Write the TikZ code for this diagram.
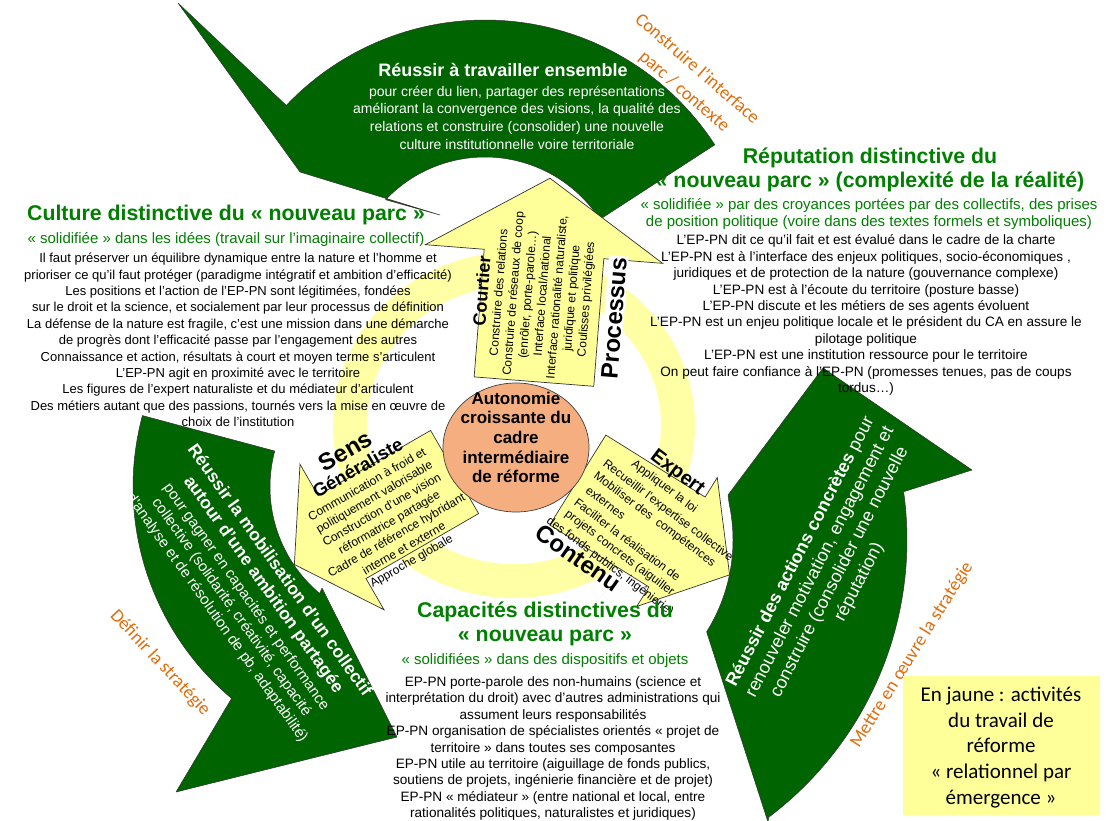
\documentclass[tikz,border=0pt]{standalone}
\usepackage{fontspec}
\setmainfont{Liberation Sans}
\newfontfamily\carlito{Carlito}
\usetikzlibrary{shapes.geometric}
\definecolor{dgreen}{RGB}{0,100,0}
\definecolor{hgreen}{RGB}{0,128,0}
\definecolor{lyellow}{RGB}{255,255,153}
\definecolor{ryellow}{RGB}{255,255,165}
\definecolor{salmon}{RGB}{244,174,128}
\definecolor{otxt}{RGB}{228,108,10}
\begin{document}
\begin{tikzpicture}[x=1pt,y=-1pt,
  garrow/.style={fill=dgreen,draw=black!80,line width=0.5pt,line join=round},
  yarrow/.style={fill=lyellow,draw=black!80,line width=0.7pt,line join=miter},
  bodytxt/.style={font=\fontsize{13.6}{16.4}\selectfont,align=center,inner sep=0pt},
  headtxt/.style={font=\bfseries\fontsize{21.3}{24.5}\selectfont,text=hgreen,align=center,inner sep=0pt},
  subtxt/.style={font=\fontsize{15}{17}\selectfont,text=hgreen,align=center,inner sep=0pt},
  whitetxt/.style={text=white,align=center,inner sep=0pt},
  smalltxt/.style={font=\fontsize{12}{14.8}\selectfont,align=center,inner sep=0pt},
  exptxt/.style={font=\fontsize{12}{13}\selectfont,inner sep=0pt,anchor=west,transform shape},
  orangelab/.style={font=\carlito\fontsize{18.5}{20}\selectfont,text=otxt,inner sep=0pt},
  bigword/.style={font=\bfseries\fontsize{24}{26}\selectfont,inner sep=0pt},
]
\useasboundingbox (0,0) rectangle (1114,820);
\fill[white] (0,0) rectangle (1114,820);

% yellow ring
\fill[ryellow,even odd rule] (514,425) ellipse[x radius=181pt,y radius=173pt]
                             (514,425) ellipse[x radius=147pt,y radius=139pt];

% headings drawn under the green arrows
\node[headtxt] (lhead) at (226,215) {Culture distinctive du « nouveau parc »};
\node[headtxt] (rhead) at (870,170) {Réputation distinctive du\\« nouveau parc » (complexité de la réalité)};

% green arrows
\fill[garrow] plot[domain=-33:-136.5,samples=60] ({485+274*cos(\x)},{294+274*sin(\x)})
  -- (178,3) -- (300,172) -- (440,215)
  -- plot[domain=-136.5:-33,samples=60] ({485+137*cos(\x)},{294+137*sin(\x)}) -- cycle;
\fill[garrow] plot[domain=195:130,samples=60] ({409+276*cos(\x)},{487+276*sin(\x)})
  -- (176,792) -- (397,737) -- (322,588)
  -- plot[domain=130:195,samples=60] ({409+139*cos(\x)},{487+139*sin(\x)}) -- cycle;
\fill[garrow] (707,633) -- (768,822)
  -- plot[domain=53:-8,samples=60] ({560+347*cos(\x)},{540+347*sin(\x)})
  -- (972,470) -- (823,368) -- (728,495)
  -- plot[domain=-12:32,samples=60] ({560+173*cos(\x)},{540+173*sin(\x)}) -- cycle;

% yellow arrows
\begin{scope}[shift={(544,254)},rotate=-4.5]
  \draw[yarrow] (0,-76) -- (119,0) -- (60,0) -- (60,128) -- (-60,128) -- (-60,0) -- (-119,0) -- cycle;
  \node[smalltxt,font=\fontsize{12}{14.6}\selectfont,rotate=90,transform shape] (courtier) at (-7,42)
    {{\bfseries\fontsize{18}{18}\selectfont Courtier}\\Construire des relations\\Construire de réseaux de coop\\(enrôler, porte-parole…)\\Interface local/national\\Interface rationalité naturaliste,\\juridique et politique\\Coulisses privilégiées};
\end{scope}
\begin{scope}[shift={(342,537)},rotate=30]
  \draw[yarrow] (-55,0) -- (0,84) -- (0,48) -- (130,48) -- (130,-48) -- (0,-48) -- (0,-84) -- cycle;
  \node[bigword,transform shape] (sens) at (46,-73) {Sens};
  \node[bigword,font=\bfseries\fontsize{18.5}{20}\selectfont,transform shape] (generaliste) at (48,-52) {Généraliste};
  \node[smalltxt,transform shape] (senstxt) at (48,12)
    {Communication à froid et\\politiquement valorisable\\Construction d’une vision\\réformatrice partagée\\Cadre de référence hybridant\\interne et externe\\Approche globale};
\end{scope}
\begin{scope}[shift={(677,542)},rotate=-32]
  \draw[yarrow] (62,0) -- (0,76) -- (0,53) -- (-117,53) -- (-117,-53) -- (0,-53) -- (0,-76) -- cycle;
\end{scope}
\begin{scope}[shift={(604,463)},rotate=-37]
  \node[exptxt,font=\bfseries\fontsize{20}{22}\selectfont] (expert) at (33,-36) {Expert};
  \node[exptxt] (e1) at (23,-17) {Appliquer la loi};
  \node[exptxt] (e2) at (0,0) {Recueillir l’expertise collective};
  \node[exptxt] (e3) at (0,15) {Mobiliser des \ compétences};
  \node[exptxt] (e4) at (2,31) {externes};
  \node[exptxt] (e5) at (0,47) {Faciliter la réalisation de};
  \node[exptxt] (e6) at (0,63) {projets concrets (aiguiller};
  \node[exptxt] (e7) at (-11,79) {des fonds publics, ingénierie)};
\end{scope}

\node[bigword,rotate=85.5,fill=white,inner sep=1.5pt] (processus) at (614,318) {Processus};
\node[bigword,rotate=-35] (contenu) at (578,558) {Contenu};

% centre
\node[ellipse,fill=salmon,draw=black!75,line width=0.7pt,minimum width=146pt,minimum height=129pt,inner sep=0pt] (core) at (516,447.5) {};
\node[font=\bfseries\fontsize{17}{19.7}\selectfont,align=center,inner sep=0pt] (coretxt) at (516,437.5)
  {Autonomie\\croissante du\\cadre\\intermédiaire\\de réforme};

% text in green arrows
\node[whitetxt,font=\bfseries\fontsize{18}{20}\selectfont] (ttitle) at (503,70) {Réussir à travailler ensemble};
\node[whitetxt,font=\fontsize{14}{17.7}\selectfont] (tbody) at (517,117.5)
  {pour créer du lien, partager des représentations\\améliorant la convergence des visions, la qualité des\\relations et construire (consolider) une nouvelle\\culture institutionnelle voire territoriale};
\begin{scope}[shift={(246,597)},rotate=-54.5]
  \node[whitetxt,transform shape,font=\bfseries\fontsize{17.5}{20}\selectfont] (bl1) at (-2,-44) {Réussir la mobilisation d’un collectif};
  \node[whitetxt,transform shape,font=\bfseries\fontsize{17.5}{20}\selectfont] (bl2) at (0,-21) {autour d’une ambition partagée};
  \node[whitetxt,transform shape,font=\fontsize{15}{17}\selectfont] (bl3) at (0,0) {pour gagner en capacités et performance};
  \node[whitetxt,transform shape,font=\fontsize{15}{17}\selectfont] (bl4) at (0,18) {collective (solidarité, créativité, capacité};
  \node[whitetxt,transform shape,font=\fontsize{15}{17}\selectfont] (bl5) at (0,36) {d’analyse et de résolution de pb, adaptabilité)};
\end{scope}
\begin{scope}[shift={(830,567)},rotate=62.6]
  \node[whitetxt,transform shape,font=\fontsize{18}{20}\selectfont] (br1) at (0,-33) {\textbf{Réussir des actions concrètes} pour};
  \node[whitetxt,transform shape,font=\fontsize{18}{20}\selectfont] (br2) at (0,-11) {renouveler motivation, engagement et};
  \node[whitetxt,transform shape,font=\fontsize{18}{20}\selectfont] (br3) at (0,11) {construire (consolider une nouvelle};
  \node[whitetxt,transform shape,font=\fontsize{18}{20}\selectfont] (br4) at (0,33) {réputation)};
\end{scope}

% text blocks
\node[subtxt] (lsub) at (226,240) {« solidifiée » dans les idées (travail sur l’imaginaire collectif)};
\node[bodytxt,font=\fontsize{13}{16.4}\selectfont] (lbody) at (238,340)
  {Il faut préserver un équilibre dynamique entre la nature et l’homme et\\prioriser ce qu’il faut protéger (paradigme intégratif et ambition d’efficacité)\\Les positions et l’action de l’EP-PN sont légitimées, fondées\\sur le droit et la science, et socialement par leur processus de définition\\La défense de la nature est fragile, c’est une mission dans une démarche\\de progrès dont l’efficacité passe par l’engagement des autres\\Connaissance et action, résultats à court et moyen terme s’articulent\\L’EP-PN agit en proximité avec le territoire\\Les figures de l’expert naturaliste et du médiateur d’articulent\\Des métiers autant que des passions, tournés vers la mise en œuvre de\\choix de l’institution};
\node[subtxt] (rsub) at (869,214) {« solidifiée » par des croyances portées par des collectifs, des prises\\de position politique (voire dans des textes formels et symboliques)};
\node[bodytxt] (rbody) at (866,315)
  {L’EP-PN dit ce qu’il fait et est évalué dans le cadre de la charte\\L’EP-PN est à l’interface des enjeux politiques, socio-économiques ,\\juridiques et de protection de la nature (gouvernance complexe)\\L’EP-PN est à l’écoute du territoire (posture basse)\\L’EP-PN discute et les métiers de ses agents évoluent\\L’EP-PN est un enjeu politique locale et le président du CA en assure le\\pilotage politique\\L’EP-PN est une institution ressource pour le territoire\\On peut faire confiance à l’EP-PN (promesses tenues, pas de coups\\tordus…)};
\node[headtxt] (bhead) at (545,624) {Capacités distinctives du\\« nouveau parc »};
\node[subtxt] (bsub) at (545,661) {« solidifiées » dans des dispositifs et objets};
\node[bodytxt] (bbody) at (553,748.5)
  {EP-PN porte-parole des non-humains (science et\\interprétation du droit) avec d’autres administrations qui\\assument leurs responsabilités\\EP-PN organisation de spécialistes orientés « projet de\\territoire » dans toutes ses composantes\\EP-PN utile au territoire (aiguillage de fonds publics,\\soutiens de projets, ingénierie financière et de projet)\\EP-PN « médiateur » (entre national et local, entre\\rationalités politiques, naturalistes et juridiques)};

% orange labels
\node[orangelab,rotate=-41] (oiface) at (698,68) {Construire l’interface};
\node[orangelab,rotate=-41] (oparc) at (684,92) {parc / contexte};
\node[orangelab,rotate=-47] (odef) at (160,663) {Définir la stratégie};
\node[orangelab,rotate=58] (omet) at (912,655) {Mettre en œuvre la stratégie};

% legend
\node[fill=lyellow,minimum width=197pt,minimum height=139pt,inner sep=0pt] (legend) at (1001.5,745.5) {};
\node[font=\carlito\fontsize{21}{25.6}\selectfont,align=center,inner sep=0pt] (legendtxt) at (1001,747.5)
  {En jaune : activités\\du travail de\\réforme\\« relationnel par\\émergence »};
\end{tikzpicture}
\end{document}
